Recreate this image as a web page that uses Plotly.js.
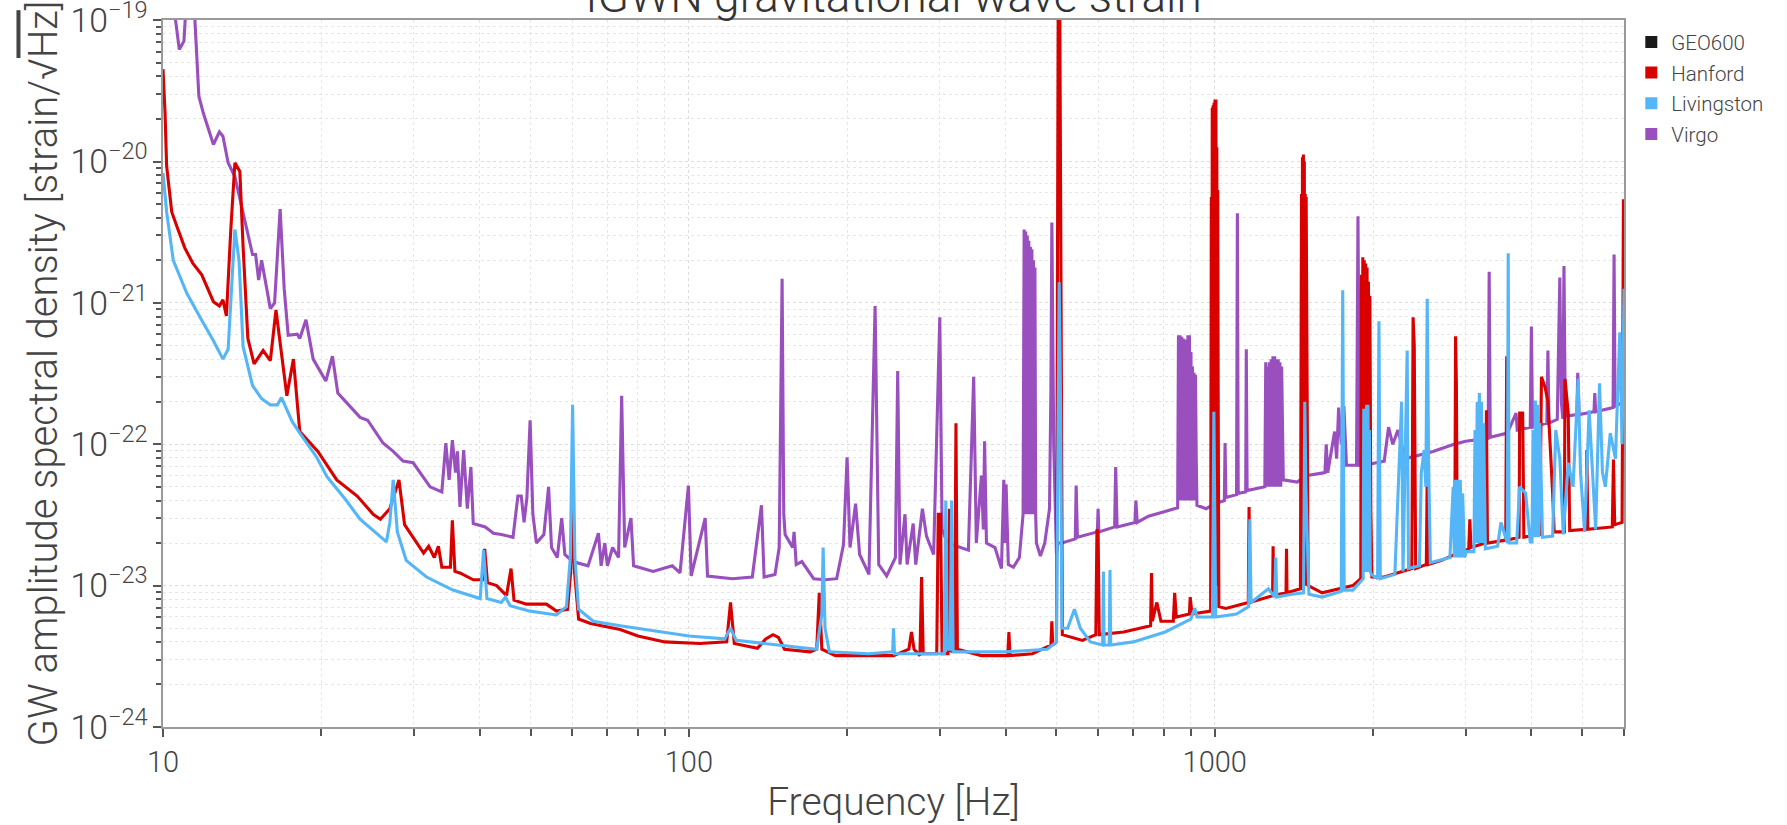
<!DOCTYPE html>
<html><head><meta charset="utf-8">
<script src="https://cdn.plot.ly/plotly-3.0.1.min.js"></script>
<style>html,body{margin:0;padding:0;background:#fff;}#chart{width:1787px;height:825px;}</style>
</head><body><div id="chart"></div>
<script>
// ---------------- data ----------------
const seriesNames = ["GEO600", "Hanford", "Livingston", "Virgo"];
const seriesColors = ["#1a1a1a", "#d90000", "#55b6f7", "#9a4fbf"];

const geo600Freq = [];
const geo600ASD = [];

const hanfordFreq = [10.0,10.09,10.16,10.39,10.62,11.0,11.4,11.85,12.47,12.8,13.0,13.2,13.45,13.7,14.0,14.2,14.5,14.9,15.5,16.0,16.4,16.8,17.2,17.7,18.2,19.7,21.4,23.4,25.1,25.9,27.0,28.1,28.8,31.3,32.0,32.8,33.4,33.9,35.2,35.5,35.9,36.7,38.9,40.5,40.9,41.4,43.1,45.0,45.9,46.5,49.1,53.6,56.0,58.8,59.6,60.1,60.6,61.7,65,74,80,90,105,118,120,122,135,140,144.5,148,152,170,175,177,179,190,245,262,265,268,275,277,279,296,298,301,303,311,313,315,320,322,324,360,404,406,408,450,488,490,492,500,502,504,507,509,511,513,560,594,597,600,603,671,755,758,761,776,790,834,839,845,895,898,905,982,985,987,989,991,993,995,997,999,1001,1003,1005,1007,1009,1011,1013,1015,1018,1050,1158,1162,1166,1288,1291,1294,1366,1369,1372,1455,1462,1465,1468,1471,1474,1477,1480,1483,1486,1489,1492,1497,1505,1600,1830,1895,1900,1906,1912,1918,1924,1930,1936,1942,1948,1954,1960,1966,1972,1980,1990,2100,2370,2383,2395,2410,2525,2535,2545,2700,2860,2870,2880,2892,3040,3055,3070,3270,3285,3300,3575,3590,3605,3790,3800,3850,3870,4150,4180,4250,4300,4390,4420,4620,4634,4700,4730,5080,5100,5120,5700,5730,5760,5950,5985,6000];
const hanfordASD = [4.5e-20,2.2e-20,9.3e-21,4.4e-21,3.5e-21,2.45e-21,1.9e-21,1.58e-21,1.02e-21,9.5e-22,1.05e-21,8.1e-22,3.2e-21,9.8e-21,8.5e-21,2.5e-21,5.6e-22,3.7e-22,4.6e-22,3.9e-22,8.9e-22,4.5e-22,2.2e-22,4.0e-22,1.23e-22,8.9e-23,5.6e-23,4.3e-23,3.2e-23,2.95e-23,3.5e-23,5.6e-23,2.7e-23,1.7e-23,1.9e-23,1.58e-23,1.9e-23,1.35e-23,1.35e-23,2.9e-23,1.26e-23,1.23e-23,1.1e-23,1.1e-23,1.82e-23,1.05e-23,1.0e-23,8.5e-24,1.32e-23,7.9e-24,7.4e-24,7.4e-24,6.6e-24,6.8e-24,1.26e-23,3.5e-23,1.26e-23,5.8e-24,5.4e-24,4.9e-24,4.4e-24,4.0e-24,3.9e-24,4.0e-24,7.6e-24,3.9e-24,3.6e-24,4.2e-24,4.5e-24,4.3e-24,3.55e-24,3.4e-24,3.55e-24,8.9e-24,3.55e-24,3.2e-24,3.2e-24,3.55e-24,4.7e-24,3.55e-24,3.2e-24,1.15e-23,3.3e-24,3.3e-24,3.2e-23,3.2e-23,3.3e-24,3.3e-24,3.5e-23,3.4e-24,3.55e-24,1.41e-22,3.55e-24,3.2e-24,3.2e-24,4.7e-24,3.2e-24,3.3e-24,3.8e-24,5.6e-24,3.8e-24,4.0e-24,3.2e-22,2e-19,2e-19,1.74e-20,2.5e-22,4.5e-24,4.1e-24,4.5e-24,2.5e-23,2.4e-23,4.5e-24,4.7e-24,5.2e-24,1.23e-23,5.6e-24,7.6e-24,5.6e-24,5.6e-24,8.9e-24,6.0e-24,6.3e-24,8.3e-24,6.3e-24,6.6e-24,5.6e-21,1.0e-23,2.4e-20,1.0e-23,2.5e-20,1.0e-23,2.6e-20,1.0e-23,2.75e-20,1.0e-23,2.75e-20,1.0e-23,1.26e-20,1.0e-23,6.3e-21,2.2e-22,7.1e-24,6.9e-24,7.6e-24,3.6e-23,7.6e-24,8.5e-24,1.9e-23,8.5e-24,8.9e-24,1.82e-23,8.9e-24,9.5e-24,5.9e-21,1.0e-23,1.07e-20,1.0e-23,1.12e-20,1.0e-23,1.0e-20,1.0e-23,5.9e-21,1.0e-23,5.6e-21,2.2e-22,1.0e-23,8.9e-24,1.0e-23,1.12e-23,1.58e-21,1.26e-23,2.1e-21,1.26e-23,2.0e-21,1.26e-23,1.9e-21,1.26e-23,1.78e-21,1.26e-23,1.41e-21,1.26e-23,1.12e-21,3.5e-23,1.15e-23,1.15e-23,1.32e-23,7.9e-22,5.0e-22,1.32e-23,1.41e-23,6.0e-23,1.41e-23,1.51e-23,1.66e-23,5.8e-22,2.7e-22,1.66e-23,1.82e-23,2.95e-23,1.86e-23,2.0e-23,1.74e-22,2.0e-23,2.1e-23,4.2e-22,2.1e-23,2.2e-23,1.66e-22,1.66e-22,2.2e-23,2.3e-23,3.0e-22,2.5e-22,2.0e-22,4.5e-23,2.4e-23,2.4e-23,2.9e-22,1.66e-22,2.45e-23,2.5e-23,9.1e-23,2.5e-23,2.6e-23,7.8e-23,2.7e-23,2.8e-23,5.4e-21,2.5e-21];

const livingstonFreq = [10.0,10.16,10.46,11.1,11.76,12.47,13.0,13.3,13.5,13.7,13.95,14.2,14.8,15.4,16.0,16.5,16.8,17.2,17.6,18.2,19.6,20.5,22.2,23.7,25.1,26.6,27.0,27.4,27.9,29.0,31.7,35.6,40.1,40.7,41.3,44.0,44.8,45.7,49.9,56.0,58.5,59.5,60.1,60.7,61.7,65.8,74,85,100,117,120,123,150,175,179,180,181.5,185,220,244,245,246,306,308,310,314,316,318,400,480,500,503,506,509,512,525,541,555,580,612,614,616,630,632,634,700,805,900,916,925,990,996,1000,1004,1100,1160,1166,1172,1265,1300,1306,1312,1400,1475,1483,1490,1500,1510,1600,1740,1751,1762,1830,1915,1920,1926,1932,1938,1944,1950,1956,1962,1968,1975,1985,2040,2052,2064,2200,2266,2280,2322,2335,2450,2470,2500,2520,2535,2550,2570,2800,2840,2855,2870,2885,2900,2915,2930,2945,2960,2985,3010,3110,3125,3140,3155,3170,3185,3200,3215,3230,3245,3270,3450,3500,3600,3614,3628,3750,3800,3900,3980,4010,4030,4050,4070,4090,4110,4130,4150,4200,4390,4450,4530,4600,4700,4800,4910,4960,5050,5150,5240,5300,5390,5460,5530,5650,5780,5890,5950,6000];
const livingstonASD = [8.3e-21,4.4e-21,2.0e-21,1.17e-21,7.9e-22,5.4e-22,4.0e-22,4.7e-22,1.26e-21,3.3e-21,2.0e-21,4.9e-22,2.6e-22,2.1e-22,1.9e-22,1.9e-22,2.14e-22,1.74e-22,1.45e-22,1.2e-22,8.1e-23,5.9e-23,4.1e-23,2.95e-23,2.45e-23,2.04e-23,2.8e-23,5.6e-23,2.4e-23,1.51e-23,1.15e-23,9.3e-24,8.1e-24,1.78e-23,8.1e-24,7.6e-24,8.3e-24,7.2e-24,6.6e-24,6.2e-24,7.1e-24,1.58e-23,1.9e-22,1.58e-23,6.8e-24,5.6e-24,5.2e-24,4.8e-24,4.4e-24,4.2e-24,5.0e-24,4.1e-24,3.8e-24,3.55e-24,6.3e-24,1.86e-23,5.0e-24,3.4e-24,3.3e-24,3.4e-24,5.0e-24,3.3e-24,3.3e-24,4.0e-23,3.55e-24,3.55e-24,4.0e-23,3.4e-24,3.4e-24,3.55e-24,4.0e-24,6.3e-23,1.4e-21,2.0e-22,5.0e-24,5.0e-24,6.8e-24,5.0e-24,4.0e-24,3.8e-24,1.26e-23,3.8e-24,3.8e-24,1.29e-23,3.8e-24,4.0e-24,4.7e-24,5.8e-24,6.9e-24,6.0e-24,6.0e-24,1.7e-22,5.0e-23,6.0e-24,6.3e-24,7.1e-24,2.95e-23,7.6e-24,9.5e-24,8.3e-24,1.58e-23,8.3e-24,8.7e-24,8.9e-24,2.0e-22,5.0e-23,2.0e-23,8.7e-24,8.3e-24,9.1e-24,1.23e-21,9.3e-24,9.3e-24,1.12e-23,1.78e-22,1.26e-23,1.66e-22,1.26e-23,1.9e-22,1.26e-23,1.9e-22,1.26e-23,1.26e-22,1.26e-23,1.2e-23,1.12e-23,7.4e-22,1.12e-23,1.2e-23,2.0e-22,1.26e-23,4.6e-22,1.32e-23,1.38e-23,6.3e-23,9.1e-23,5.0e-23,1.07e-21,7.9e-23,1.45e-23,1.58e-23,5.0e-23,1.58e-23,5.6e-23,1.58e-23,5.6e-23,1.58e-23,5.6e-23,1.58e-23,4.5e-23,1.58e-23,1.74e-23,1.74e-23,1.26e-22,2.0e-23,2.0e-22,2.0e-23,2.3e-22,2.0e-23,2.0e-22,2.0e-23,1.41e-22,1.82e-23,1.9e-23,2.8e-23,2.0e-23,2.24e-21,2.0e-23,2.0e-23,5.0e-23,4.5e-23,2.04e-23,2.04e-23,1.26e-22,2.2e-23,2.04e-22,2.2e-23,1.9e-22,2.2e-23,1.41e-22,2.2e-23,2.24e-23,1.26e-22,7.9e-23,2.3e-23,7.4e-23,5.0e-23,2.9e-22,6.3e-23,2.4e-23,1.74e-22,5.0e-23,2.5e-23,2.7e-22,6.3e-23,5.0e-23,1.2e-22,7.9e-23,6.2e-22,1.0e-22,1.26e-21];

const virgoFreq = [10.0,10.54,10.74,10.96,11.1,11.4,11.5,11.7,11.93,12.47,12.8,13.0,13.3,13.7,14.2,14.8,15.0,15.2,15.4,16.0,16.3,16.7,17.0,17.3,18.0,18.2,18.7,19.3,20.4,21.0,21.5,23.7,24.5,26.2,27.4,28.6,29.9,32.2,33.9,34.5,35.0,35.5,36.0,36.3,36.7,37.3,37.9,38.5,38.9,41.0,42.5,44.0,46.3,47.3,48.0,48.6,49.2,49.9,50.5,51.3,53.0,54.1,54.8,56.2,57.3,58.1,60.1,64.3,67.3,68.1,69.2,70.0,71.6,73.5,74.5,75.5,77.6,78.5,85.5,93,96.2,99.8,101,107.4,108.5,121,132,137.4,139,145.8,148.5,150.4,151.5,152.4,157.5,158.5,160,164,172.7,181.6,191,196.8,199.9,202.5,207.5,211.2,220,226,229.6,237.7,247,249.5,252,257.6,260,267,270,278,283,292,300,303,310,327,340,348,352,360,363,365,368,382,393,397,399,401,405,414,425,432,434,435.5,437,438.5,440,441.5,443,444.5,446,447.5,449,450.5,452,453.5,455,456.5,458,466,475,485,488,490,492,494,500,503,512,543,545,548,598,600,602,645,648,652,705,708,712,748,850,853,856,859,862,865,868,871,874,877,880,883,886,889,892,895,898,901,904,907,910,913,916,919,922,925,963,1000,1043,1046,1050,1100,1104,1108,1145,1148,1152,1240,1245,1250,1255,1260,1265,1270,1275,1280,1285,1290,1295,1300,1305,1310,1315,1320,1325,1330,1335,1340,1350,1435,1490,1620,1629,1640,1690,1705,1720,1740,1760,1780,1860,1872,1884,1940,1950,1960,2100,2140,2180,2230,2300,2600,2850,3000,3310,3325,3340,3600,3740,3760,3980,4000,4020,4280,4300,4320,4480,4530,4560,4590,4613,4640,4880,4900,4930,5260,5280,5300,5720,5745,5770,6000];
const virgoASD = [5e-19,1.0e-19,6.2e-20,7.1e-20,1.6e-19,1.6e-19,1.0e-19,2.9e-20,2.2e-20,1.32e-20,1.62e-20,1.51e-20,9.8e-21,7.8e-21,4.4e-21,2.2e-21,2.2e-21,1.45e-21,2.0e-21,9.1e-22,1.0e-21,4.6e-21,1.26e-21,5.9e-22,6.0e-22,5.6e-22,7.6e-22,4.0e-22,2.8e-22,4.2e-22,2.3e-22,1.55e-22,1.48e-22,1.02e-22,8.9e-23,7.6e-23,7.4e-23,5.0e-23,4.6e-23,1.02e-22,5.6e-23,1.07e-22,6.3e-23,8.9e-23,3.6e-23,9.1e-23,3.5e-23,6.9e-23,2.75e-23,2.6e-23,2.35e-23,2.3e-23,2.2e-23,4.3e-23,4.3e-23,2.8e-23,4.2e-23,1.48e-22,3.2e-23,2.0e-23,2.3e-23,5.0e-23,1.86e-23,1.58e-23,3.0e-23,1.66e-23,1.48e-23,1.38e-23,2.35e-23,1.38e-23,2.0e-23,1.38e-23,1.86e-23,1.58e-23,2.2e-22,1.86e-23,3.0e-23,1.38e-23,1.26e-23,1.38e-23,1.23e-23,5.1e-23,1.17e-23,3.0e-23,1.17e-23,1.12e-23,1.15e-23,3.7e-23,1.15e-23,1.2e-23,1.86e-23,1.48e-21,3.2e-23,2.3e-23,1.86e-23,2.4e-23,1.41e-23,1.48e-23,1.12e-23,1.1e-23,1.12e-23,1.95e-23,8.1e-23,1.86e-23,3.8e-23,1.66e-23,1.2e-23,9.5e-22,1.41e-23,1.17e-23,1.58e-23,3.3e-22,1.41e-23,3.2e-23,1.41e-23,2.75e-23,1.41e-23,3.5e-23,2.24e-23,1.66e-23,7.9e-22,2.5e-23,2.0e-23,1.86e-23,1.78e-23,3.0e-22,2.0e-23,6.0e-23,2.5e-23,1.05e-22,2.0e-23,1.86e-23,1.32e-23,5.6e-23,2.0e-23,5.2e-23,1.41e-23,1.35e-23,1.58e-23,3.2e-23,3.3e-21,3.2e-23,3.2e-21,3.2e-23,3.0e-21,3.2e-23,2.75e-21,3.2e-23,2.5e-21,3.2e-23,2.4e-21,3.2e-23,2.0e-21,3.2e-23,1.78e-21,3.2e-23,2.0e-23,1.62e-23,2.0e-23,3.5e-23,2.5e-22,3.7e-21,1.0e-21,1.0e-22,1.66e-23,2.0e-23,2.0e-23,2.14e-23,5.1e-23,2.2e-23,2.4e-23,3.5e-23,2.4e-23,2.6e-23,6.9e-23,2.6e-23,2.8e-23,4.0e-23,2.8e-23,3.1e-23,3.55e-23,5.9e-22,4.0e-23,5.9e-22,4.0e-23,5.75e-22,4.0e-23,5.6e-22,4.0e-23,5.5e-22,4.0e-23,5.25e-22,4.0e-23,5.9e-22,4.0e-23,5.9e-22,4.0e-23,4.5e-22,4.0e-23,3.55e-22,4.0e-23,3.2e-22,4.0e-23,3.1e-22,7.9e-23,3.7e-23,3.5e-23,3.8e-23,4.0e-23,1.02e-22,4.2e-23,4.4e-23,4.3e-21,4.5e-23,4.6e-23,4.7e-22,4.7e-23,5.0e-23,5.0e-23,3.8e-22,5.0e-23,3.55e-22,5.0e-23,3.8e-22,5.0e-23,4.0e-22,5.0e-23,4.2e-22,5.0e-23,4.2e-22,5.0e-23,4.0e-22,5.0e-23,4.0e-22,5.0e-23,3.8e-22,5.0e-23,3.55e-22,5.6e-23,5.4e-23,6.0e-23,6.3e-23,1.0e-22,6.3e-23,1.23e-22,7.9e-23,1.82e-22,1.0e-22,1.86e-22,7.1e-23,7.1e-23,4.1e-21,7.1e-23,7.2e-23,3.55e-22,7.2e-23,7.6e-23,1.32e-22,1.0e-22,1.26e-22,7.9e-23,8.9e-23,1.0e-22,1.05e-22,1.1e-22,1.66e-21,1.12e-22,1.2e-22,1.66e-22,1.26e-22,1.32e-22,6.8e-22,1.32e-22,1.41e-22,4.6e-22,1.41e-22,1.5e-22,1.51e-21,2.0e-22,1.51e-22,1.82e-21,1.58e-22,1.62e-22,3.2e-22,1.62e-22,1.7e-22,2.3e-22,1.7e-22,1.82e-22,2.2e-21,1.86e-22,2.0e-22];

const xRangeHz = [10, 6000];
const yRangeExp = [-24, -18.999];

// ---------------- figure ----------------
const fontFam = "Roboto, 'Open Sans', sans-serif";
const lineSeries = [
  {name: "Virgo", x: virgoFreq, y: virgoASD, color: seriesColors[3]},
  {name: "Hanford", x: hanfordFreq, y: hanfordASD, color: seriesColors[1]},
  {name: "Livingston", x: livingstonFreq, y: livingstonASD, color: seriesColors[2]},
  {name: "GEO600", x: geo600Freq, y: geo600ASD, color: seriesColors[0]}
];
const traces = lineSeries.map(s => ({
  type: "scatter", mode: "lines", x: s.x, y: s.y, name: s.name,
  line: {color: s.color, width: 3.1}, showlegend: false, legendgroup: s.name,
  hoverinfo: "x+y+name"
}));
seriesNames.forEach((n, i) => {
  traces.push({type: "bar", x: [null], y: [null], name: n, legendgroup: n,
    marker: {color: seriesColors[i]}, showlegend: true});
});

const gridC = "#dcdcdc";
const layout = {
  width: 1787, height: 825,
  paper_bgcolor: "#fff", plot_bgcolor: "#fff",
  margin: {l: 163, r: 163, t: 20, b: 98, pad: 0},
  font: {family: fontFam, color: "#444", weight: 300},
  title: {text: "IGWN gravitational wave strain", font: {family: fontFam, size: 46, color: "#333", weight: 300},
          x: 0.5, xref: "paper", y: 0.986, yref: "container", yanchor: "bottom"},
  showlegend: true,
  legend: {x: 1.005, xanchor: "left", y: 0.997, yanchor: "top", font: {size: 20.5, color: "#444", family: fontFam},
           tracegroupgap: 1, bgcolor: "rgba(0,0,0,0)"},
  xaxis: {
    type: "log", range: [Math.log10(xRangeHz[0]), Math.log10(xRangeHz[1])], dtick: 1,
    exponentformat: "none", showline: true, linecolor: "#9a9a9a", linewidth: 2, mirror: true,
    ticks: "outside", ticklen: 8, tickwidth: 1.5, tickcolor: "#555",
    showgrid: true, gridcolor: gridC, griddash: "dot", gridwidth: 1,
    minor: {dtick: "D1", ticks: "outside", ticklen: 7, tickwidth: 1.5, tickcolor: "#555", showgrid: true, gridcolor: "#e6e6e6", griddash: "dot"},
    tickfont: {size: 29, color: "#444"},
    title: {text: "Frequency [Hz]", font: {size: 39, color: "#444"}, standoff: 11},
    zeroline: false
  },
  yaxis: {
    type: "log", range: yRangeExp, dtick: 1, tick0: 0,
    exponentformat: "power", showexponent: "all", ticklabeloverflow: "allow",
    showline: true, linecolor: "#9a9a9a", linewidth: 2, mirror: true,
    ticks: "outside", ticklen: 8, tickwidth: 1.5, tickcolor: "#555",
    showgrid: true, gridcolor: gridC, griddash: "dot", gridwidth: 1,
    minor: {dtick: "D1", ticks: "outside", ticklen: 5, tickwidth: 1.5, tickcolor: "#555", showgrid: true, gridcolor: "#e6e6e6", griddash: "dot"},
    tickfont: {size: 27, color: "#444"},
    title: {text: "GW amplitude spectral density [strain/√<span style='text-decoration:overline'>Hz</span>]", font: {size: 40, color: "#444"}, standoff: 0},
    zeroline: false
  },
  bargap: 0
};
Plotly.newPlot("chart", traces, layout, {displayModeBar: false, responsive: false});
</script>
</body></html>
